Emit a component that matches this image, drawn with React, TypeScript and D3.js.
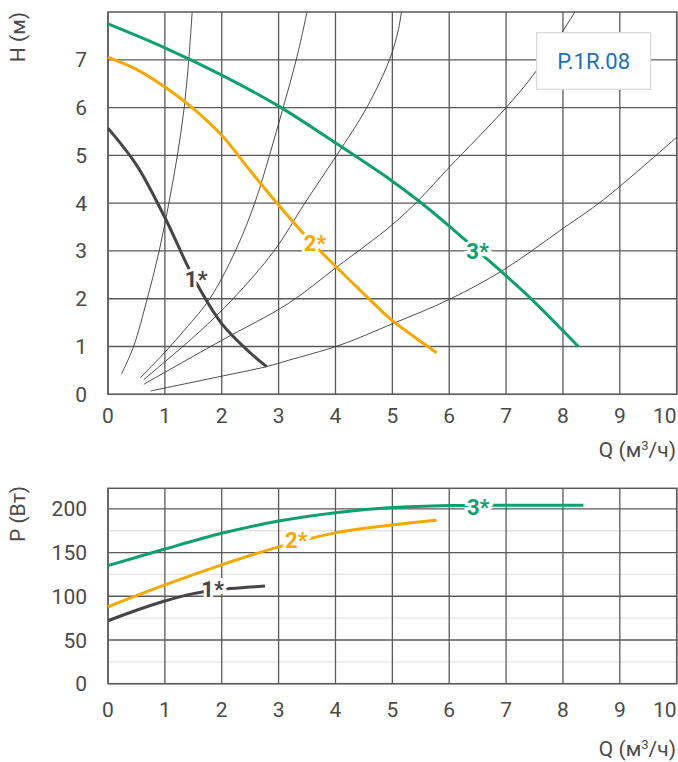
import React from "react";
import * as d3 from "d3";

// ---------- data ----------
const qTicks = [0, 1, 2, 3, 4, 5, 6, 7, 8, 9, 10];
const hTicks = [0, 1, 2, 3, 4, 5, 6, 7];
const pTicks = [0, 50, 100, 150, 200];
const pMinorTicks = [25, 75, 125, 175];

// H(Q) pump curves
const head1: [number, number][] = [[0, 5.57], [0.5, 4.8], [1.0, 3.7], [1.5, 2.45], [2.0, 1.48], [2.5, 0.87], [2.79, 0.58]];
const head2: [number, number][] = [[0, 7.05], [0.5, 6.8], [1, 6.43], [1.5, 5.98], [2, 5.42], [2.5, 4.68], [3, 3.96], [3.5, 3.28], [4, 2.68], [4.5, 2.1], [5, 1.54], [5.4, 1.19], [5.78, 0.87]];
const head3: [number, number][] = [[0, 7.75], [1, 7.25], [2, 6.68], [3, 6.03], [4, 5.26], [5, 4.46], [5.45, 4.06], [6, 3.52], [6.5, 3.0], [7, 2.48], [7.5, 1.93], [8, 1.33], [8.27, 1.0]];

// system curves (thin)
const sysA: [number, number][] = [[0.235, 0.42], [0.45, 1.0], [0.69, 2.0], [0.9, 3.0], [1.07, 4.0], [1.22, 5.0], [1.34, 6.0], [1.42, 7.0], [1.48, 8.0]];
const sysB: [number, number][] = [[0.57, 0.35], [1.0, 0.88], [1.4, 1.42], [1.79, 2.0], [2.24, 3.0], [2.58, 4.0], [2.84, 5.0], [3.08, 6.0], [3.31, 7.0], [3.5, 8.0]];
const sysC: [number, number][] = [[0.63, 0.31], [1.0, 0.68], [1.6, 1.3], [2.2, 2.0], [2.92, 3.0], [3.46, 4.0], [4.02, 5.0], [4.55, 6.0], [4.95, 7.0], [5.1, 7.6], [5.16, 8.0]];
const sysD: [number, number][] = [[0.63, 0.21], [1.0, 0.46], [2.0, 1.13], [3.17, 1.9], [4.02, 2.66], [4.99, 3.54], [5.46, 4.06], [6.0, 4.75], [7.0, 6.0], [7.54, 6.78], [8.21, 8.0]];
const sysE: [number, number][] = [[0.75, 0.07], [2.0, 0.38], [2.79, 0.58], [3.17, 0.71], [4.08, 1.03], [5.01, 1.48], [6.01, 1.99], [6.95, 2.6], [8.0, 3.47], [8.71, 4.07], [10, 5.38]];

// P(Q) power curves
const power1: [number, number][] = [[0, 72], [0.5, 84], [1, 94.6], [1.5, 103], [2, 108], [2.5, 110.5], [2.76, 111.8]];
const power2: [number, number][] = [[0, 88], [1, 113], [2, 136], [3, 156.5], [4, 172.5], [5, 181.6], [5.78, 187]];
const power3: [number, number][] = [[0, 135], [1, 154], [2, 172], [3, 186], [4, 195.6], [5, 201.4], [6, 203.7], [7, 204.2], [8.36, 204.2]];

const seriesNames = ["1*", "2*", "3*"];
const headLabelAt: [number, number][] = [[1.55, 2.41], [3.64, 3.17], [6.5, 2.99]];
const powerLabelAt: [number, number][] = [[1.84, 108.4], [3.31, 164.4], [6.51, 202.2]];
const modelName = "P.1R.08";

// ---------- styles ----------
const COLORS = ["#454545", "#f5a800", "#0e9f6e"];
const GRID = "#5a5a5a";
const TEXT = "#4a4a4a";
const FONT = "Roboto, 'DejaVu Sans', sans-serif";

export default function App() {
  const x0 = 108, x1 = 676.7;
  const xs = d3.scaleLinear().domain([0, 10]).range([x0, x1]);
  const yh = d3.scaleLinear().domain([0, 8]).range([394.3, 12]);
  const yp = d3.scaleLinear().domain([0, 223.5]).range([683.7, 488.3]);

  const curve = d3.curveCatmullRom.alpha(0.5);
  const lineH = d3.line<[number, number]>().x(d => xs(d[0])).y(d => yh(d[1])).curve(curve);
  const lineP = d3.line<[number, number]>().x(d => xs(d[0])).y(d => yp(d[1])).curve(curve);

  const heads = [head1, head2, head3];
  const powers = [power1, power2, power3];
  const systems = [sysA, sysB, sysC, sysD, sysE];

  const labelStyle: React.CSSProperties = { paintOrder: "stroke" } as any;

  return (
    <svg width={678} height={762} style={{ position: "absolute", left: 0, top: 0, background: "#fff" }} fontFamily={FONT}>
      <defs>
        <clipPath id="clipTop">
          <rect x={x0} y={yh(8)} width={x1 - x0} height={yh(0) - yh(8)} />
        </clipPath>
      </defs>
      <rect x={0} y={0} width={678} height={762} fill="#fff" />

      {/* ---------- top chart ---------- */}
      {qTicks.map(q => (
        <line key={"vg" + q} x1={xs(q)} x2={xs(q)} y1={yh(0)} y2={yh(8)} stroke={GRID} strokeWidth={1.3} />
      ))}
      {hTicks.map(h => (
        <line key={"hg" + h} x1={x0} x2={x1} y1={yh(h)} y2={yh(h)} stroke={GRID} strokeWidth={1.3} />
      ))}
      <rect x={x0} y={yh(8)} width={x1 - x0} height={yh(0) - yh(8)} fill="none" stroke={GRID} strokeWidth={1.5} />

      <g clipPath="url(#clipTop)">
        {systems.map((s, i) => (
          <path key={"sys" + i} d={lineH(s) || ""} fill="none" stroke="#3a3a3a" strokeWidth={0.9} />
        ))}
      </g>

      {heads.map((s, i) => (
        <path key={"head" + i} d={lineH(s) || ""} fill="none" stroke={COLORS[i]} strokeWidth={3} strokeLinecap="butt" />
      ))}
      {headLabelAt.map((p, i) => (
        <text key={"hl" + i} x={xs(p[0])} y={yh(p[1])} dy="0.36em" textAnchor="middle" fontSize={22} fontWeight={700}
          fill={COLORS[i]} stroke="#fff" strokeWidth={6} style={labelStyle}>{seriesNames[i]}</text>
      ))}

      {/* model box */}
      <rect x={536.7} y={32.7} width={114} height={56.6} fill="#fff" stroke="#d8d8d8" strokeWidth={1.2} />
      <text x={593.7} y={61} dy="0.36em" textAnchor="middle" fontSize={22} fill="#1d6fb8">{modelName}</text>

      {/* top axes labels */}
      {hTicks.map(h => (
        <text key={"ht" + h} x={87} y={yh(h)} dy="0.36em" textAnchor="end" fontSize={21} fill={TEXT}>{h}</text>
      ))}
      {qTicks.map(q => (
        <text key={"qt" + q} x={q === 10 ? xs(q) - 12 : xs(q)} y={423} textAnchor="middle" fontSize={21} fill={TEXT}>{q}</text>
      ))}
      <text x={676} y={457} textAnchor="end" fontSize={21} fill={TEXT}>Q (м<tspan dy={-7} fontSize={13}>3</tspan><tspan dy={7}>/ч)</tspan></text>
      <text transform="translate(25,37) rotate(-90)" textAnchor="middle" fontSize={21} fill={TEXT}>H (м)</text>

      {/* ---------- bottom chart ---------- */}
      {pMinorTicks.map(p => (
        <line key={"pm" + p} x1={x0} x2={x1} y1={yp(p)} y2={yp(p)} stroke="#e4e4e4" strokeWidth={1.4} />
      ))}
      {qTicks.map(q => (
        <line key={"vg2" + q} x1={xs(q)} x2={xs(q)} y1={yp(0)} y2={yp(223.5)} stroke={GRID} strokeWidth={1.3} />
      ))}
      {pTicks.map(p => (
        <line key={"pg" + p} x1={x0} x2={x1} y1={yp(p)} y2={yp(p)} stroke={GRID} strokeWidth={1.3} />
      ))}
      <rect x={x0} y={yp(223.5)} width={x1 - x0} height={yp(0) - yp(223.5)} fill="none" stroke={GRID} strokeWidth={1.5} />

      {powers.map((s, i) => (
        <path key={"pw" + i} d={lineP(s) || ""} fill="none" stroke={COLORS[i]} strokeWidth={3} />
      ))}
      {powerLabelAt.map((p, i) => (
        <text key={"pl" + i} x={xs(p[0])} y={yp(p[1])} dy="0.36em" textAnchor="middle" fontSize={22} fontWeight={700}
          fill={COLORS[i]} stroke="#fff" strokeWidth={6} style={labelStyle}>{seriesNames[i]}</text>
      ))}

      {pTicks.map(p => (
        <text key={"pt" + p} x={87} y={yp(p)} dy="0.36em" textAnchor="end" fontSize={21} fill={TEXT}>{p}</text>
      ))}
      {qTicks.map(q => (
        <text key={"qt2" + q} x={q === 10 ? xs(q) - 12 : xs(q)} y={717} textAnchor="middle" fontSize={21} fill={TEXT}>{q}</text>
      ))}
      <text x={676} y={756} textAnchor="end" fontSize={21} fill={TEXT}>Q (м<tspan dy={-7} fontSize={13}>3</tspan><tspan dy={7}>/ч)</tspan></text>
      <text transform="translate(25,514) rotate(-90)" textAnchor="middle" fontSize={21} fill={TEXT}>P (Вт)</text>
    </svg>
  );
}
